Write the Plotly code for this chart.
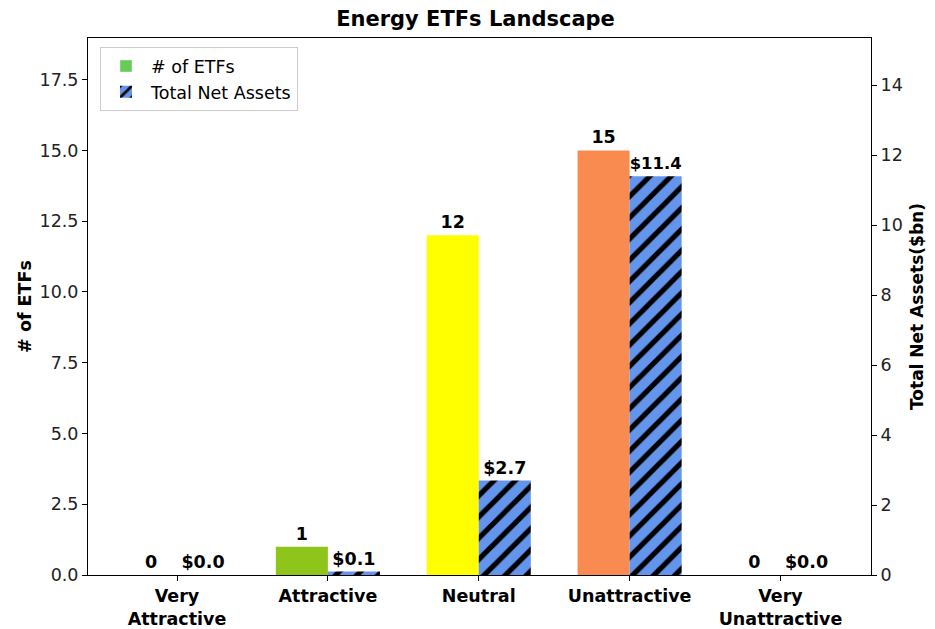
import plotly.graph_objects as go

categories = ["Very<br>Attractive", "Attractive", "Neutral", "Unattractive", "Very<br>Unattractive"]
etf_counts = [0, 1, 12, 15, 0]
net_assets = [0.0, 0.1, 2.7, 11.4, 0.0]
bar_colors = ["#66cc55", "#8dc51a", "#ffff00", "#f98a50", "#66cc55"]
asset_color = "#6495ed"

x_pos = list(range(len(categories)))
FONT = "DejaVu Sans"
W = 0.345
FS = 17.5

fig = go.Figure()
fig.add_trace(go.Bar(
    x=x_pos, y=etf_counts, name="# of ETFs", width=W, offset=-W,
    marker=dict(color=bar_colors, line=dict(width=0)),
    text=[str(v) for v in etf_counts], textposition="outside",
    textfont=dict(family=FONT, size=FS, color="black", weight="bold"),
    cliponaxis=False, yaxis="y", showlegend=False,
))
fig.add_trace(go.Bar(
    x=[None], y=[None], name="# of ETFs", marker=dict(color="#66cc55"), yaxis="y",
))
fig.add_trace(go.Bar(
    x=x_pos, y=net_assets, name="Total Net Assets", width=W, offset=0,
    marker=dict(color=asset_color, line=dict(width=0),
                pattern=dict(shape="/", fgcolor="black", fgopacity=1, bgcolor=asset_color,
                             size=15, solidity=0.35)),
    text=[f"${v:.1f}" for v in net_assets], textposition="outside",
    textfont=dict(family=FONT, size=FS, color="black", weight="bold"),
    cliponaxis=False, yaxis="y2",
))

fig.update_layout(
    width=935, height=629,
    paper_bgcolor="white", plot_bgcolor="white",
    margin=dict(l=80, r=72, t=30, b=62, autoexpand=False),
    barmode="overlay",
    font=dict(family=FONT, size=FS, color="black"),
    title=dict(text="<b>Energy ETFs Landscape</b>", x=0.5, xanchor="center",
               yref="container", y=0.994, yanchor="top", pad=dict(t=0, b=0),
               font=dict(family=FONT, size=21, color="black")),
    xaxis=dict(range=[-0.59, 4.6], tickmode="array", tickvals=x_pos,
               ticktext=[f"<b>{c}</b>" for c in categories],
               showline=True, linecolor="black", linewidth=1, mirror=True, ticks="outside", ticklen=5,
               tickcolor="black", showgrid=False, zeroline=False, automargin=False,
               tickfont=dict(size=FS, color="black")),
    yaxis=dict(range=[0, 18.97], tickvals=[0, 2.5, 5, 7.5, 10, 12.5, 15, 17.5],
               ticktext=["0.0", "2.5", "5.0", "7.5", "10.0", "12.5", "15.0", "17.5"],
               showline=True, linecolor="black", linewidth=1, ticks="outside", ticklen=5, tickcolor="black",
               showgrid=False, zeroline=False, automargin=False,
               tickfont=dict(size=FS, color="#222222"),
               title=dict(text="<b># of ETFs</b>", font=dict(size=FS), standoff=3)),
    yaxis2=dict(range=[0, 15.35], tickvals=[0, 2, 4, 6, 8, 10, 12, 14], overlaying="y", side="right",
                showline=True, linecolor="black", linewidth=1, ticks="outside", ticklen=5, tickcolor="black",
                showgrid=False, zeroline=False, automargin=False,
                tickfont=dict(size=FS, color="#222222"),
                title=dict(text="<b>Total Net Assets($bn)</b>", font=dict(size=17), standoff=9)),
    legend=dict(x=0.0153, y=0.983, xanchor="left", yanchor="top", bgcolor="white",
                bordercolor="#cccccc", borderwidth=1, font=dict(size=FS), traceorder="normal",
                itemwidth=40),
)

fig.write_html("out.html")
